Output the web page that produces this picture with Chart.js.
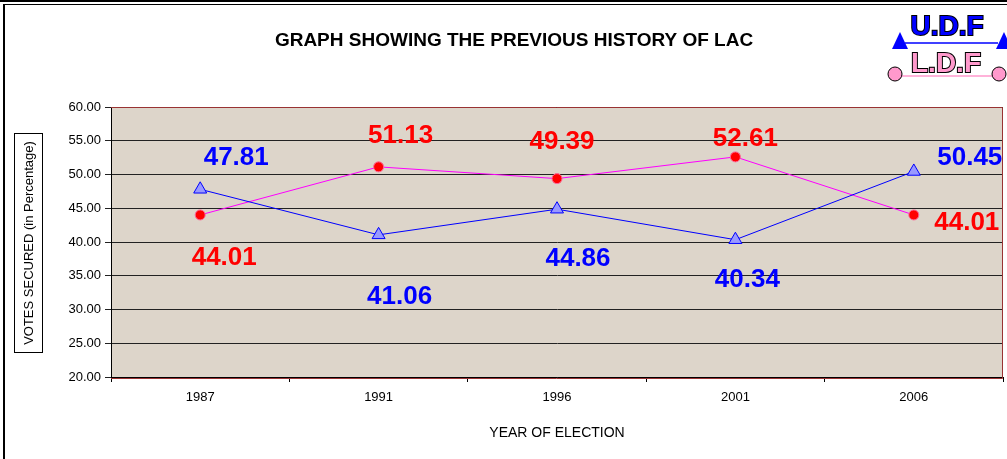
<!DOCTYPE html>
<html>
<head>
<meta charset="utf-8">
<script src="https://cdn.jsdelivr.net/npm/chart.js@4.4.0/dist/chart.umd.min.js"></script>
<style>
  html, body { margin: 0; padding: 0; background: #fff; }
  #wrap { position: relative; width: 1007px; height: 459px; overflow: hidden; }
  #topbar { position: absolute; left: 0; top: 0; width: 1007px; height: 2px; background: #000; }
  #frame { position: absolute; left: 3px; top: 4px; width: 1010px; height: 470px;
           border-left: 2px solid #000; border-top: 1px solid #000; }
  #chartBox { position: absolute; left: 0; top: 0; width: 1007px; height: 459px; }
</style>
</head>
<body>
<div id="wrap">
  <div id="topbar"></div>
  <div id="frame"></div>
  <div id="chartBox"><canvas id="chartLAC"></canvas></div>
</div>
<script>
// Datos del gráfico
const anios = ['1987', '1991', '1996', '2001', '2006'];
const votosUDF = [47.81, 41.06, 44.86, 40.34, 50.45];
const votosLDF = [44.01, 51.13, 49.39, 52.61, 44.01];
const ticksY = [20, 25, 30, 35, 40, 45, 50, 55, 60];

const titulo = 'GRAPH SHOWING THE PREVIOUS HISTORY OF LAC';
const tituloY = 'VOTES SECURED (in Percentage)';
const tituloX = 'YEAR OF ELECTION';

// Desplazamiento de las etiquetas respecto a cada punto (px)
const offsetsUDF = [[36, -31], [21, 62], [21, 50], [12, 40], [56, -14]];
const offsetsLDF = [[24, 43], [22, -31], [5, -37], [10, -18], [53, 8]];

/**
 * Fondo del área de trazado y borde rojo oscuro
 */
const fondoPlugin = {
  id: 'fondo',
  beforeDraw(chart) {
    const { ctx, chartArea: a } = chart;
    ctx.save();
    ctx.fillStyle = '#ddd5ca';
    ctx.fillRect(a.left, a.top, a.right - a.left, a.bottom - a.top);
    ctx.restore();
  },
  afterDatasetsDraw(chart) {
    const { ctx, chartArea: a } = chart;
    ctx.save();
    ctx.strokeStyle = '#993333';
    ctx.lineWidth = 1;
    ctx.beginPath();
    ctx.moveTo(a.left, a.top + 0.5);
    ctx.lineTo(a.right - 0.5, a.top + 0.5);
    ctx.lineTo(a.right - 0.5, a.bottom + 1.5);
    ctx.lineTo(a.left, a.bottom + 1.5);
    ctx.stroke();
    ctx.restore();
  }
};

/**
 * Etiquetas de valores grandes junto a cada punto
 */
const etiquetasPlugin = {
  id: 'etiquetas',
  afterDatasetsDraw(chart) {
    const { ctx } = chart;
    ctx.save();
    ctx.font = 'bold 26px "Liberation Sans", Arial, sans-serif';
    ctx.textAlign = 'center';
    ctx.textBaseline = 'middle';
    chart.data.datasets.forEach((ds, i) => {
      const meta = chart.getDatasetMeta(i);
      const offs = i === 0 ? offsetsUDF : offsetsLDF;
      ctx.fillStyle = i === 0 ? '#0000ff' : '#ff0000';
      meta.data.forEach((pt, j) => {
        ctx.fillText(ds.data[j].toFixed(2), pt.x + offs[j][0], pt.y + offs[j][1]);
      });
    });
    ctx.restore();
  }
};

/**
 * Título, título del eje Y con recuadro, y logo U.D.F / L.D.F
 */
const decoracionPlugin = {
  id: 'decoracion',
  afterDraw(chart) {
    const { ctx } = chart;
    ctx.save();

    // Título principal
    ctx.fillStyle = '#000';
    ctx.font = 'bold 19px "Liberation Sans", Arial, sans-serif';
    ctx.textAlign = 'center';
    ctx.textBaseline = 'middle';
    ctx.fillText(titulo, 514, 41);

    // Título eje Y con recuadro
    ctx.strokeStyle = '#000';
    ctx.lineWidth = 1;
    ctx.strokeRect(14.5, 133.5, 28, 219);
    ctx.save();
    ctx.translate(29, 243);
    ctx.rotate(-Math.PI / 2);
    ctx.font = '13px "Liberation Sans", Arial, sans-serif';
    ctx.fillText(tituloY, 0, 0);
    ctx.restore();

    // Logo U.D.F
    ctx.strokeStyle = '#0000ff';
    ctx.lineWidth = 1.5;
    ctx.beginPath();
    ctx.moveTo(905, 43);
    ctx.lineTo(998, 43);
    ctx.stroke();
    [900, 1004].forEach(cx => {
      ctx.beginPath();
      ctx.moveTo(cx, 32);
      ctx.lineTo(cx + 8, 49);
      ctx.lineTo(cx - 8, 49);
      ctx.closePath();
      ctx.fillStyle = '#0000ff';
      ctx.fill();
    });
    ctx.font = 'bold 28px "Liberation Sans", Arial, sans-serif';
    ctx.textBaseline = 'alphabetic';
    ctx.lineWidth = 2;
    ctx.strokeStyle = '#000';
    ctx.strokeText('U.D.F', 947, 35);
    ctx.fillStyle = '#0000ff';
    ctx.fillText('U.D.F', 947, 35);

    // Logo L.D.F
    ctx.strokeStyle = '#ff99cc';
    ctx.lineWidth = 1.5;
    ctx.beginPath();
    ctx.moveTo(900, 76);
    ctx.lineTo(993, 76);
    ctx.stroke();
    [895, 999].forEach(cx => {
      ctx.beginPath();
      ctx.arc(cx, 74, 7, 0, Math.PI * 2);
      ctx.fillStyle = '#ff99cc';
      ctx.fill();
      ctx.lineWidth = 1;
      ctx.strokeStyle = '#000';
      ctx.stroke();
    });
    ctx.lineWidth = 2;
    ctx.strokeStyle = '#000';
    ctx.strokeText('L.D.F', 946, 72);
    ctx.fillStyle = '#ff99cc';
    ctx.fillText('L.D.F', 946, 72);

    ctx.restore();
  }
};

const ctx = document.getElementById('chartLAC');
const chartLAC = new Chart(ctx, {
  type: 'line',
  data: {
    labels: anios,
    datasets: [
      {
        label: 'U.D.F',
        data: votosUDF,
        borderColor: '#0000ff',
        borderWidth: 1,
        pointStyle: 'triangle',
        pointRadius: 7.5,
        pointBackgroundColor: '#9999ff',
        pointBorderColor: '#0000ff',
        pointBorderWidth: 1,
        tension: 0
      },
      {
        label: 'L.D.F',
        data: votosLDF,
        borderColor: '#ff00ff',
        borderWidth: 1,
        pointStyle: 'circle',
        pointRadius: 5,
        pointBackgroundColor: '#ff0000',
        pointBorderColor: '#ff6699',
        pointBorderWidth: 1,
        tension: 0
      }
    ]
  },
  options: {
    responsive: true,
    maintainAspectRatio: false,
    animation: false,
    layout: { autoPadding: false, padding: { top: 107, left: 0, right: 4, bottom: 0 } },
    plugins: {
      legend: { display: false },
      title: { display: false },
      tooltip: { enabled: false }
    },
    scales: {
      x: {
        type: 'category',
        offset: true,
        afterFit: scale => {
          scale.height = 82;
          scale.paddingLeft = 0;
          scale.paddingRight = 0;
        },
        grid: {
          offset: true,
          drawOnChartArea: false,
          drawTicks: true,
          tickLength: 5,
          color: '#000'
        },
        border: { color: '#000', width: 1 },
        ticks: {
          color: '#000',
          font: { family: '"Liberation Sans", Arial, sans-serif', size: 13 },
          padding: 8,
          maxRotation: 0
        },
        title: {
          display: true,
          text: tituloX,
          color: '#000',
          font: { family: '"Liberation Sans", Arial, sans-serif', size: 14 },
          padding: { top: 0, bottom: 17 }
        }
      },
      y: {
        min: 20,
        max: 60,
        afterFit: scale => { scale.width = 111; },
        afterBuildTicks: scale => {
          scale.ticks = ticksY.map(v => ({ value: v }));
        },
        grid: {
          color: '#222',
          lineWidth: 1,
          drawTicks: true,
          tickLength: 6
        },
        border: { color: '#000', width: 1 },
        ticks: {
          color: '#000',
          padding: 4,
          font: { family: '"Liberation Sans", Arial, sans-serif', size: 13 },
          callback: v => Number(v).toFixed(2)
        }
      }
    }
  },
  plugins: [fondoPlugin, etiquetasPlugin, decoracionPlugin]
});
</script>
</body>
</html>
